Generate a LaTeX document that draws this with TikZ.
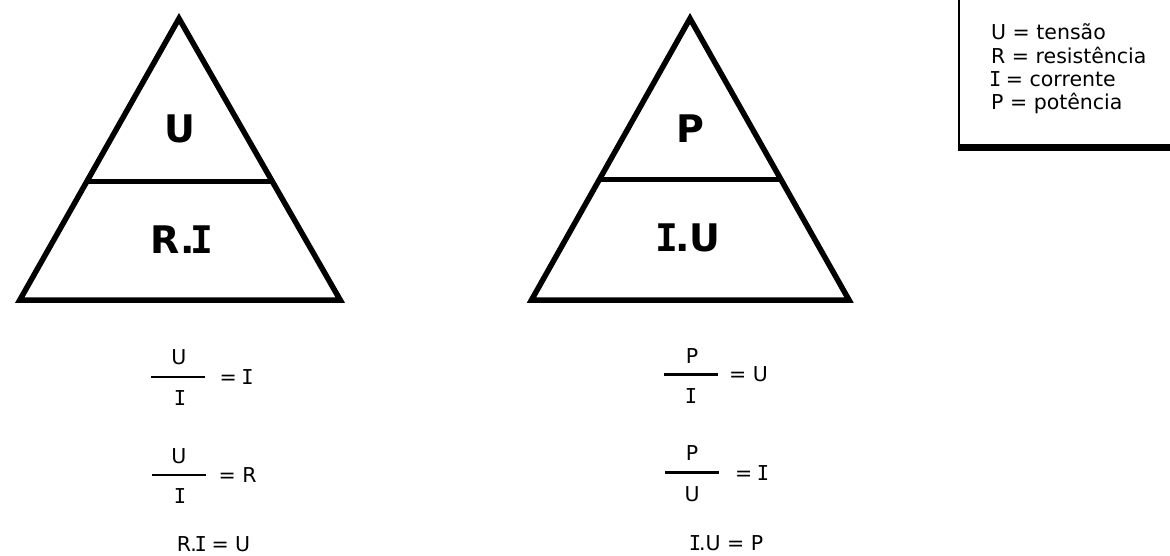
\documentclass[tikz,border=0pt]{standalone}
\usepackage{fontspec}
\setmainfont{DejaVu Sans}
\newfontfamily\monoIfont{DejaVu Sans Mono}
\newcommand\sI{\kern-0.1em{\monoIfont I}\kern-0.1em}
\begin{document}
\begin{tikzpicture}[x=1pt,y=-1pt,
  tri/.style={line width=5.5pt, line join=miter},
  midline/.style={line width=5pt},
  big/.style={inner sep=0pt, font=\fontsize{38}{40}\selectfont\bfseries},
  txt/.style={inner sep=0pt, font=\fontsize{20.5}{24}\selectfont},
  legrow/.style={txt, anchor=base west},
  fracline/.style={line width=2.8pt}]
\useasboundingbox (0,0) rectangle (1170,555);

% left triangle
\draw[tri] (179,18.5) -- (340.2,300) -- (19.8,300) -- cycle;
\draw[midline] (86.8,181.5) -- (272.3,181.5);
\node[big] (tU) at (180,129) {U};
\node[big] (tRI) at (180,240) {R.\sI};

% right triangle
\draw[tri] (690,18.5) -- (849,300) -- (531.5,300) -- cycle;
\draw[midline] (599.6,179) -- (780.7,179);
\node[big] (tP) at (690.5,129) {P};
\node[big] (tIU) at (690,238) {\sI.U};

% left formulas
\draw[fracline] (151,377) -- (205,377);
\node[txt] (n1) at (179,357.5) {U};
\node[txt] (d1) at (180,398.5) {\sI};
\node[txt,anchor=west] (r1) at (219.5,377) {= \sI};
\draw[fracline] (152,475) -- (206,475);
\node[txt] (n2) at (179,456.5) {U};
\node[txt] (d2) at (180,496.5) {\sI};
\node[txt,anchor=west] (r2) at (218.5,475) {= R};
\node[txt] (e3) at (213.5,544.5) {R.\sI\ = U};

% right formulas
\draw[fracline] (664,374.3) -- (718,374.3);
\node[txt] (n4) at (692,356) {P};
\node[txt] (d4) at (691,396.5) {\sI};
\node[txt,anchor=west] (r4) at (729,374.3) {= U};
\draw[fracline] (665,472.7) -- (719,472.7);
\node[txt] (n5) at (692,453.5) {P};
\node[txt] (d5) at (692,494.5) {U};
\node[txt,anchor=west] (r5) at (735,472.7) {= \sI};
\node[txt] (e6) at (727,543) {\sI.U = P};

% legend
\draw[line width=2pt] (959,-2) -- (959,148);
\draw[line width=7pt] (958,147.5) -- (1172,147.5);
\node[legrow] (lu) at (991,39.7) {U = tensão};
\node[legrow] (lr) at (991,63.3) {R = resistência};
\node[legrow] (li) at (991,86.3) {\sI\ = corrente};
\node[legrow] (lp) at (991,109.2) {P = potência};
\end{tikzpicture}
\end{document}
